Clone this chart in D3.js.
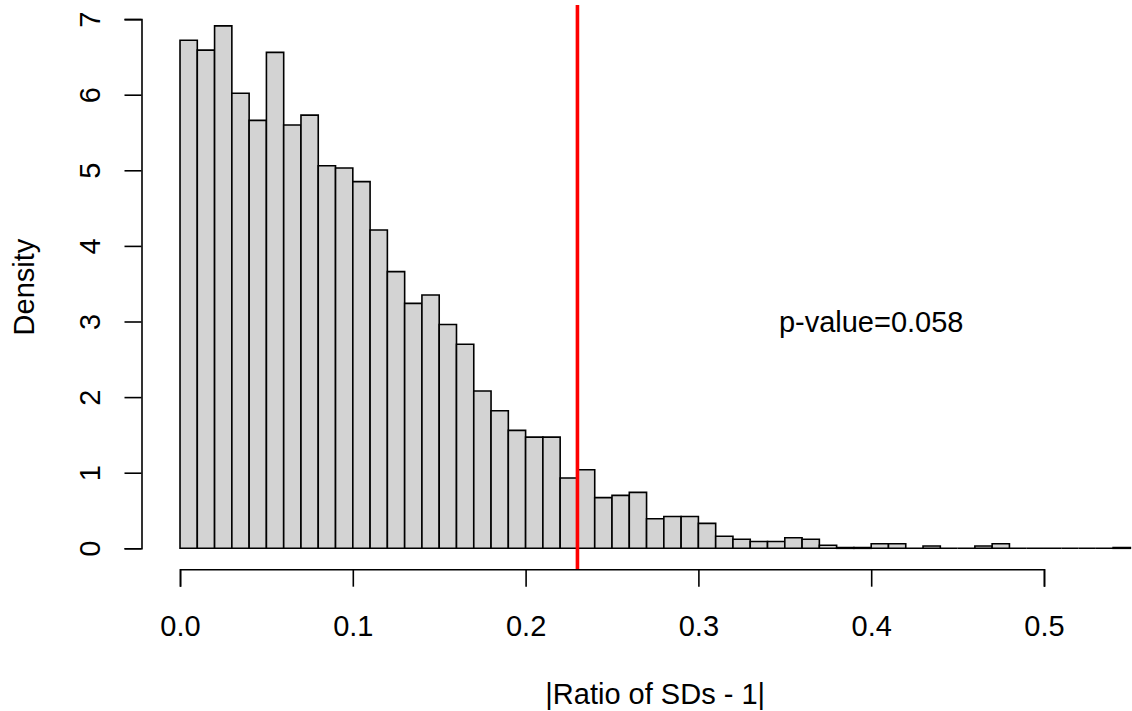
<!DOCTYPE html>
<html>
<head>
<meta charset="utf-8">
<script src="https://cdn.jsdelivr.net/npm/d3@7"></script>
<style>
  html, body { margin: 0; padding: 0; background: #ffffff; }
  svg { display: block; }
  text { font-family: "Liberation Sans", Arial, sans-serif; fill: #000; }
</style>
</head>
<body>
<svg id="chart" width="1132" height="711"></svg>
<script>
// Histogram of |ratio of SDs - 1| (density scale), bins of width 0.01 from 0 to 0.55
const binStart = 0;
const binWidth = 0.01;
const densities = [
  6.72, 6.59, 6.91, 6.02, 5.66, 6.56, 5.60, 5.73, 5.06, 5.03,
  4.85, 4.21, 3.66, 3.24, 3.35, 2.96, 2.70, 2.08, 1.82, 1.56,
  1.47, 1.47, 0.93, 1.04, 0.67, 0.70, 0.74, 0.39, 0.42, 0.42,
  0.33, 0.16, 0.12, 0.09, 0.09, 0.14, 0.12, 0.04, 0.01, 0.01,
  0.06, 0.06, 0.00, 0.03, 0.00, 0.00, 0.03, 0.06, 0.00, 0.00,
  0.00, 0.00, 0.00, 0.00, 0.01
];
const xTicks = [0, 0.1, 0.2, 0.3, 0.4, 0.5];
const xTickLabels = ["0.0", "0.1", "0.2", "0.3", "0.4", "0.5"];
const yTicks = [0, 1, 2, 3, 4, 5, 6, 7];
const yTickLabels = ["0", "1", "2", "3", "4", "5", "6", "7"];
const observed = 0.23;
const pLabel = "p-value=0.058";
const pLabelAt = [0.4, 3];
const xTitle = "|Ratio of SDs - 1|";
const yTitle = "Density";

const bins = densities.map((d, i) => ({
  x0: binStart + i * binWidth,
  x1: binStart + (i + 1) * binWidth,
  density: d
}));

// R-style 4% padding of the data range
const pad = ([lo, hi]) => [lo - 0.04 * (hi - lo), hi + 0.04 * (hi - lo)];
const xLim = pad([bins[0].x0, bins[bins.length - 1].x1]);
const yLim = pad([0, d3.max(densities)]);

// plot region in pixels
const plot = { left: 142, right: 1168.4, top: 5.0, bottom: 569.2 };

const x = d3.scaleLinear().domain(xLim).range([plot.left, plot.right]);
const y = d3.scaleLinear().domain(yLim).range([plot.bottom, plot.top]);

const svg = d3.select("#chart");
const fontSize = 29;

// bars as closed paths so empty bins still show their outline on the baseline
svg.append("g")
  .selectAll("path")
  .data(bins)
  .join("path")
  .attr("d", d => {
    const p = d3.path();
    p.moveTo(x(d.x0), y(0));
    p.lineTo(x(d.x0), y(d.density));
    p.lineTo(x(d.x1), y(d.density));
    p.lineTo(x(d.x1), y(0));
    p.closePath();
    return p.toString();
  })
  .attr("fill", "#d3d3d3")
  .attr("stroke", "#000")
  .attr("stroke-width", 1.6);

// observed statistic
svg.append("line")
  .attr("x1", x(observed)).attr("x2", x(observed))
  .attr("y1", plot.top).attr("y2", plot.bottom)
  .attr("stroke", "#ff0000")
  .attr("stroke-width", 3.6);

// x axis: line spans first to last tick
const xAxisScale = d3.scaleLinear()
  .domain([xTicks[0], xTicks[xTicks.length - 1]])
  .range([x(xTicks[0]), x(xTicks[xTicks.length - 1])]);
const gx = svg.append("g")
  .attr("transform", `translate(0,${plot.bottom})`)
  .call(d3.axisBottom(xAxisScale)
    .tickValues(xTicks)
    .tickFormat((d, i) => xTickLabels[i])
    .tickSize(17.5)
    .tickSizeOuter(17.5));
gx.selectAll("path, line").attr("stroke", "#000").attr("stroke-width", 1.6);
gx.selectAll("text")
  .attr("dy", null)
  .attr("y", 66.5)
  .style("font-size", fontSize + "px")
  .style("font-family", '"Liberation Sans", Arial, sans-serif')
  .attr("fill", "#000");

// y axis with labels parallel to the axis
const yAxisScale = d3.scaleLinear()
  .domain([yTicks[0], yTicks[yTicks.length - 1]])
  .range([y(yTicks[0]), y(yTicks[yTicks.length - 1])]);
const gy = svg.append("g")
  .attr("transform", `translate(${plot.left - 0.5},0)`)
  .call(d3.axisLeft(yAxisScale)
    .tickValues(yTicks)
    .tickFormat((d, i) => yTickLabels[i])
    .tickSize(17)
    .tickSizeOuter(17));
gy.selectAll("path, line").attr("stroke", "#000").attr("stroke-width", 1.6);
gy.selectAll("text")
  .attr("x", null)
  .attr("dy", null)
  .attr("text-anchor", "middle")
  .attr("transform", "translate(-41.5,0) rotate(-90)")
  .style("font-size", fontSize + "px")
  .style("font-family", '"Liberation Sans", Arial, sans-serif')
  .attr("fill", "#000");

// axis titles
svg.append("text")
  .attr("x", (plot.left + plot.right) / 2)
  .attr("y", 704)
  .attr("text-anchor", "middle")
  .style("font-size", fontSize + "px")
  .text(xTitle);

svg.append("text")
  .attr("transform", `translate(34,${(plot.top + plot.bottom) / 2}) rotate(-90)`)
  .attr("text-anchor", "middle")
  .style("font-size", fontSize + "px")
  .text(yTitle);

// p-value annotation, centred on its data position
svg.append("text")
  .attr("x", x(pLabelAt[0]))
  .attr("y", y(pLabelAt[1]))
  .attr("dy", "0.35em")
  .attr("text-anchor", "middle")
  .style("font-size", fontSize + "px")
  .text(pLabel);
</script>
</body>
</html>
